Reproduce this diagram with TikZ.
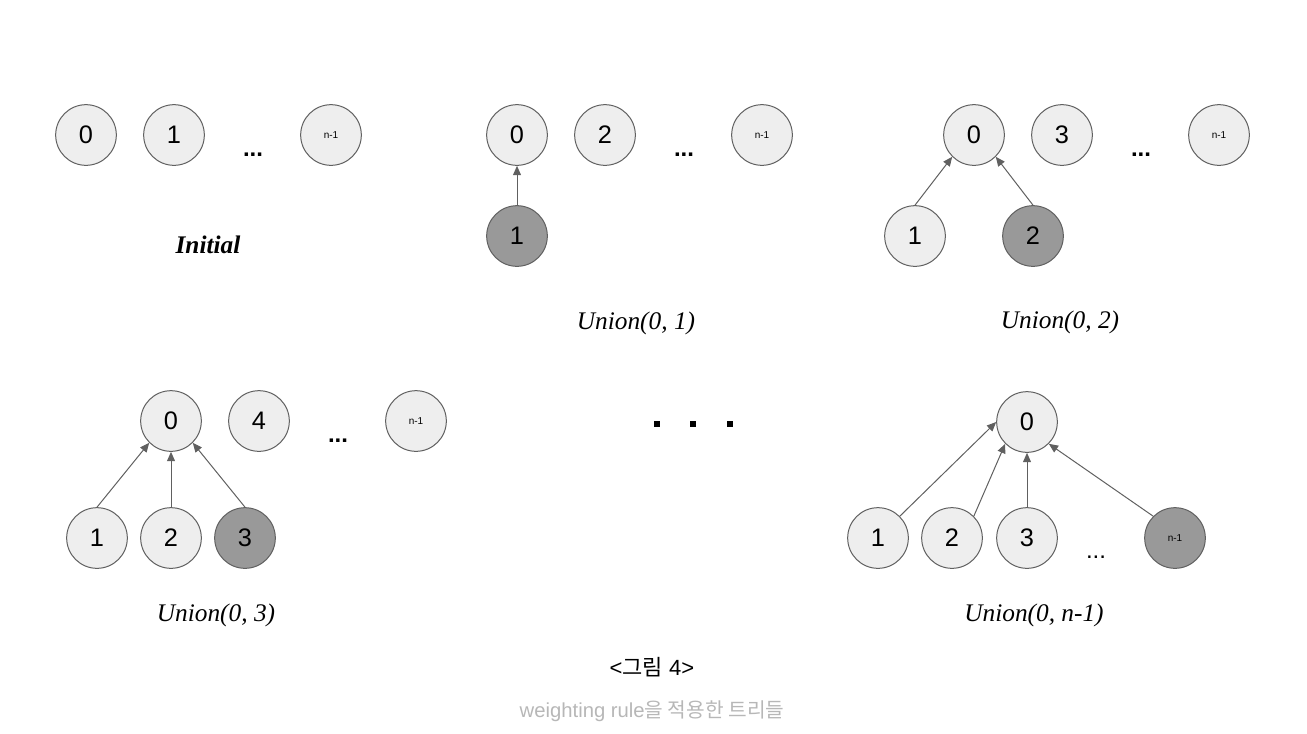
\documentclass[tikz,border=0pt]{standalone}
\usepackage{fontspec}
\setmainfont{Liberation Serif}
\newfontfamily\numfont{Liberation Sans}
\newfontfamily\krfont{Noto Sans CJK KR}
\usetikzlibrary{arrows.meta}
\definecolor{nodefill}{HTML}{EEEEEE}
\definecolor{darkfill}{HTML}{999999}
\definecolor{edgegray}{HTML}{606060}
\definecolor{capgray}{HTML}{B7B7B7}
\begin{document}
\begin{tikzpicture}[x=0.75pt,y=-0.75pt,
 nd/.style={circle,draw=edgegray,line width=0.75pt,fill=nodefill,minimum size=45.5pt,inner sep=0pt,font=\numfont\fontsize{19}{19}\selectfont},
 dk/.style={nd,fill=darkfill},
 sm/.style={font=\numfont\fontsize{7.5}{7.5}\selectfont},
 arr/.style={draw=edgegray,line width=0.75pt,-{Triangle[length=7pt,width=6pt]}},
 lbl/.style={font=\fontsize{19}{19}\selectfont\itshape},
 ell/.style={font=\numfont\bfseries\fontsize{18}{18}\selectfont},
 sq/.style={fill=black,minimum size=4.8pt,inner sep=0pt}
]
\useasboundingbox (0,0) rectangle (1307,733);
% Initial
\node[nd] (a0) at (86,135) {0};
\node[nd] (a1) at (174,135) {1};
\node[ell] (ad) at (253,155) {...};
\node[nd,sm] (an) at (331,135) {n-1};
\node[font=\fontsize{19}{19}\selectfont\bfseries\itshape] (al) at (208,245) {Initial};
% Union(0,1)
\node[nd] (b0) at (517,135) {0};
\node[nd] (b2) at (605,135) {2};
\node[ell] (bd) at (684,155) {...};
\node[nd,sm] (bn) at (762,135) {n-1};
\node[dk] (b1) at (517,236) {1};
\draw[arr] (b1.north) -- (b0.south);
\node[lbl] (bl) at (636,323) {Union(0, 1)};
% Union(0,2)
\node[nd] (c0) at (974,135) {0};
\node[nd] (c3) at (1062,135) {3};
\node[ell] (cd) at (1141,155) {...};
\node[nd,sm] (cn) at (1219,135) {n-1};
\node[nd] (c1) at (915,236) {1};
\node[dk] (c2) at (1033,236) {2};
\draw[arr] (c1.north) -- (c0.225);
\draw[arr] (c2.north) -- (c0.-45);
\node[lbl] (cl) at (1060,322) {Union(0, 2)};
% Union(0,3)
\node[nd] (d0) at (171,421) {0};
\node[nd] (d4) at (259,421) {4};
\node[ell] (dd) at (338,441) {...};
\node[nd,sm] (dn) at (416,421) {n-1};
\node[nd] (d1) at (97,538) {1};
\node[nd] (d2) at (171,538) {2};
\node[dk] (d3) at (245,538) {3};
\draw[arr] (d1.north) -- (d0.225);
\draw[arr] (d2.north) -- (d0.south);
\draw[arr] (d3.north) -- (d0.-45);
\node[lbl] (dl) at (216,615) {Union(0, 3)};
% middle dots
\node[sq] (m1) at (657,424) {};
\node[sq] (m2) at (693,424) {};
\node[sq] (m3) at (730,424) {};
% Union(0,n-1)
\node[nd] (e0) at (1027,422) {0};
\node[nd] (e1) at (878,538) {1};
\node[nd] (e2) at (952,538) {2};
\node[nd] (e3) at (1027,538) {3};
\node[font=\numfont\fontsize{18}{18}\selectfont] (ed) at (1096,557) {...};
\node[dk,sm] (en) at (1175,538) {n-1};
\draw[arr] (e1.45) -- (e0.west);
\draw[arr] (e2.45) -- (e0.225);
\draw[arr] (e3.north) -- (e0.south);
\draw[arr] (en.135) -- (e0.-45);
\node[lbl] (el) at (1034,615) {Union(0, n-1)};
% captions
\node[font=\numfont\fontsize{16.5}{16.5}\selectfont] (cap) at (652,667) {<{\krfont 그림} 4>};
\node[font=\numfont\fontsize{15.2}{15.2}\selectfont,text=capgray] (sub) at (652,711) {weighting rule{\krfont 을 적용한 트리들}};
\end{tikzpicture}
\end{document}
